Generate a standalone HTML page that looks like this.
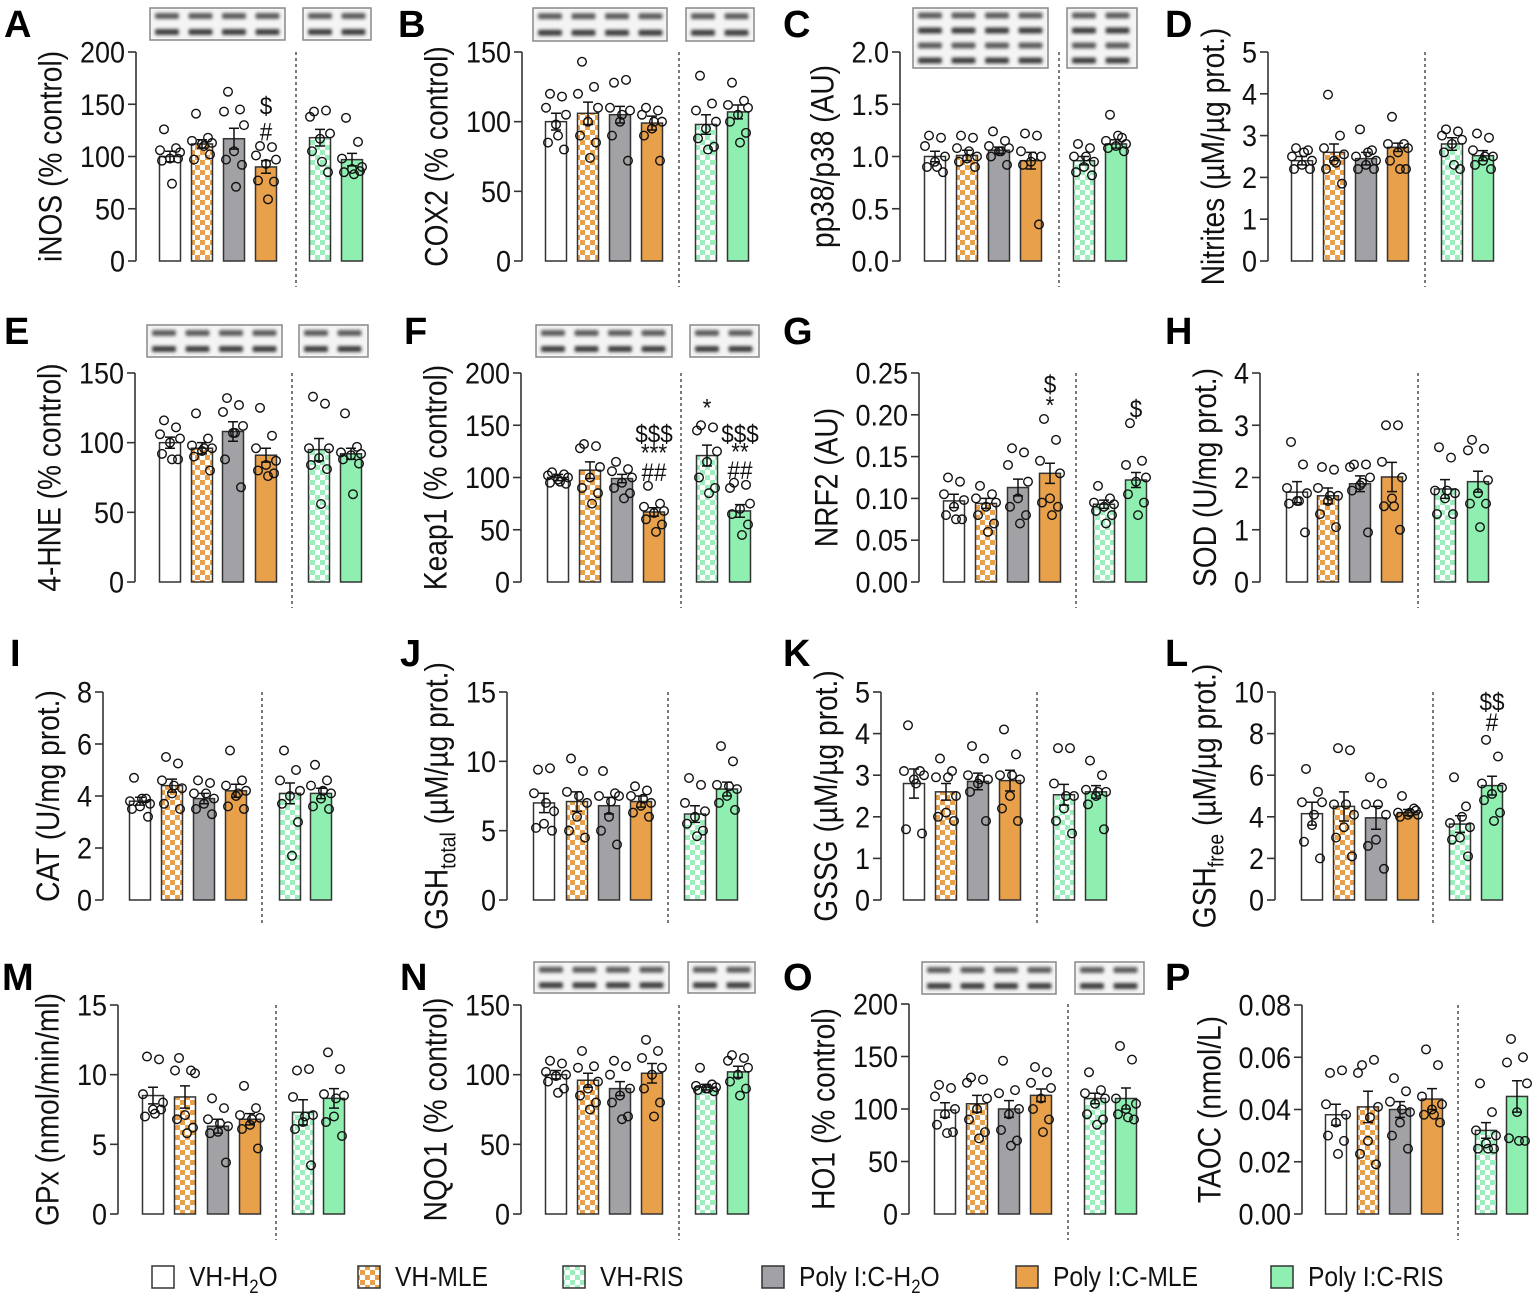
<!DOCTYPE html>
<html><head><meta charset="utf-8"><style>
html,body{margin:0;padding:0;background:#fff;}
svg{display:block;font-family:"Liberation Sans",Arial,sans-serif;}
</style></head><body>
<svg id="fig" width="1532" height="1295" viewBox="0 0 1532 1295" xmlns="http://www.w3.org/2000/svg">
<defs>
<pattern id="chkO" width="10" height="10" patternUnits="userSpaceOnUse"><rect width="10" height="10" fill="#fff"/><rect width="5" height="5" fill="#E9A04A"/><rect x="5" y="5" width="5" height="5" fill="#E9A04A"/></pattern>
<pattern id="chkG" width="10" height="10" patternUnits="userSpaceOnUse"><rect width="10" height="10" fill="#fff"/><rect width="5" height="5" fill="#9BEFBC"/><rect x="5" y="5" width="5" height="5" fill="#9BEFBC"/></pattern>
<filter id="blur" x="-20%" y="-50%" width="140%" height="200%"><feGaussianBlur stdDeviation="1.6"/></filter>
</defs>
<g id="root"></g>
</svg>
<script>
// ---- data (bar order: VH-H2O, VH-MLE, PolyI:C-H2O, PolyI:C-MLE, VH-RIS, PolyI:C-RIS)
const groups = ["VH-H2O","VH-MLE","Poly I:C-H2O","Poly I:C-MLE","VH-RIS","Poly I:C-RIS"];

const A_mean = [100,112,117,90,118,97];
const A_sem = [5,4,10,6,8,6];
const A_pts = [[126,108,106,104,98,96,98,74],[141,118,115,113,112,97,102,110],[162,145,143,130,105,97,92,71],[110,109,101,97,93,77,76,59],[143,144,138,122,117,105,85,95],[137,114,98,90,88,85,86,83]];
const A_ticks = [0,50,100,150,200];
const A_annot = [[3,"#",125],[3,"$",150]];

const B_mean = [100,106,105,99,98,107];
const B_sem = [6,8,6,5,7,5];
const B_pts = [[120,118,110,105,98,85,80,90],[143,125,120,110,100,90,85,74],[128,130,110,108,100,90,72,105],[110,108,105,100,95,90,72,100],[133,113,108,100,95,88,82,80],[128,115,112,110,105,100,92,85]];
const B_ticks = [0,50,100,150];

const C_mean = [1.0,1.01,1.06,0.96,0.96,1.12];
const C_sem = [0.05,0.05,0.03,0.08,0.04,0.04];
const C_pts = [[1.2,1.18,1.1,1.0,0.95,0.9,0.85,0.9],[1.2,1.18,1.08,1.0,0.98,0.95,0.9,1.05],[1.24,1.15,1.1,1.08,1.05,1.0,0.92,1.05],[1.22,1.2,1.05,1.0,0.95,0.92,0.35,1.0],[1.12,1.08,1.0,0.95,0.9,0.85,0.82,1.0],[1.4,1.18,1.15,1.12,1.1,1.08,1.05,1.2]];
const C_ticks = [0,0.5,1.0,1.5,2.0];

const D_mean = [2.4,2.6,2.45,2.72,2.8,2.52];
const D_sem = [0.1,0.2,0.15,0.1,0.15,0.12];
const D_pts = [[2.7,2.65,2.5,2.4,2.3,2.2,2.2,2.6],[3.98,3.0,2.7,2.55,2.4,2.2,1.85,2.35],[3.15,2.65,2.5,2.4,2.3,2.2,2.2,2.6],[3.45,2.8,2.8,2.7,2.6,2.4,2.2,2.2],[3.15,3.1,3.0,2.9,2.8,2.6,2.2,2.3],[3.05,2.95,2.65,2.5,2.4,2.3,2.2,2.5]];
const D_ticks = [0,1,2,3,4,5];

const E_mean = [100,96,108,91,95,92];
const E_sem = [4,4,7,5,8,4];
const E_pts = [[116,111,106,103,100,92,88,88],[121,103,98,96,94,90,80,96],[132,127,122,112,107,88,68,107],[125,105,96,87,84,80,78,76],[133,128,96,96,89,84,81,56],[121,97,93,92,91,88,85,63]];
const E_ticks = [0,50,100,150];

const F_mean = [100,107,99,67,121,68];
const F_sem = [3,8,4,4,10,6];
const F_pts = [[105,103,102,100,98,95,94,96],[132,130,128,110,100,90,85,75],[115,108,106,100,95,90,85,80],[92,75,72,68,66,60,55,48],[150,148,145,125,115,100,90,85],[95,93,90,75,70,65,55,45]];
const F_ticks = [0,50,100,150,200];
const F_annot = [[3,"##",106],[3,"***",125],[3,"$$$",143],[4,"*",168],[5,"##",108],[5,"**",126],[5,"$$$",143]];

const G_mean = [0.097,0.094,0.113,0.130,0.093,0.122];
const G_sem = [0.008,0.006,0.010,0.012,0.005,0.009];
const G_pts = [[0.125,0.12,0.105,0.098,0.09,0.08,0.075,0.075],[0.115,0.105,0.1,0.095,0.09,0.08,0.07,0.06],[0.16,0.155,0.14,0.12,0.1,0.09,0.08,0.07],[0.195,0.17,0.145,0.13,0.1,0.095,0.09,0.08],[0.115,0.1,0.095,0.093,0.09,0.085,0.08,0.07],[0.19,0.145,0.14,0.125,0.12,0.105,0.095,0.08]];
const G_ticks = [0,0.05,0.10,0.15,0.20,0.25];
const G_annot = [[3,"*",0.213],[3,"$",0.238],[5,"$",0.209]];

const H_mean = [1.72,1.65,1.88,2.01,1.78,1.92];
const H_sem = [0.2,0.15,0.15,0.28,0.18,0.2];
const H_pts = [[2.68,2.25,1.8,1.7,1.55,1.5,0.95,1.55],[2.2,2.15,1.8,1.65,1.55,1.3,1.05,1.65],[2.25,2.25,2.2,2.0,1.85,1.75,0.95,1.9],[3.0,3.0,2.3,2.0,1.6,1.45,1.0,1.45],[2.58,2.38,1.75,1.7,1.6,1.3,1.3,1.75],[2.72,2.55,2.52,1.95,1.7,1.5,1.5,1.05]];
const H_ticks = [0,1,2,3,4];

const I_mean = [3.8,4.4,3.9,4.2,4.1,4.1];
const I_sem = [0.15,0.25,0.2,0.25,0.4,0.2];
const I_pts = [[4.7,3.9,3.8,3.7,3.6,3.5,3.2,3.9],[5.5,5.25,4.6,4.3,4.1,3.7,3.5,4.4],[4.6,4.5,4.1,3.9,3.7,3.5,3.3,4.1],[5.75,4.6,4.4,4.2,4.0,3.6,3.5,4.1],[5.75,5.0,4.6,4.2,4.0,3.7,3.0,1.7],[5.2,4.6,4.4,4.1,3.9,3.6,3.5,4.2]];
const I_ticks = [0,2,4,6,8];

const J_mean = [7.0,7.1,6.8,7.1,6.2,8.0];
const J_sem = [0.7,0.7,0.6,0.4,0.6,0.5];
const J_pts = [[9.4,9.5,7.7,6.4,5.5,5.2,5.0,7.0],[10.2,9.3,7.8,7.0,6.0,5.0,4.5,7.5],[9.3,7.7,7.5,7.5,6.0,5.0,4.0,7.1],[8.2,7.9,7.5,7.0,6.8,6.3,6.0,7.3],[8.8,8.3,7.0,6.4,6.0,5.5,5.0,4.6],[11.1,10.0,8.3,8.0,7.5,7.0,6.5,8.2]];
const J_ticks = [0,5,10,15];

const K_mean = [2.8,2.6,2.85,2.87,2.53,2.6];
const K_sem = [0.35,0.2,0.2,0.25,0.25,0.15];
const K_pts = [[4.2,3.1,3.1,3.0,2.9,1.7,1.6,2.8],[3.4,3.1,2.95,2.5,2.1,2.0,1.9,2.95],[3.7,3.4,3.0,2.9,2.8,2.6,1.9,2.9],[4.1,3.5,3.0,2.9,2.5,2.2,1.9,3.0],[3.65,3.65,2.8,2.5,2.2,1.9,1.6,2.5],[3.35,3.0,2.65,2.6,2.5,2.3,1.7,2.6]];
const K_ticks = [0,1,2,3,4,5];

const L_mean = [4.15,4.5,3.95,4.2,3.65,5.5];
const L_sem = [0.55,0.7,0.55,0.15,0.4,0.45];
const L_pts = [[6.3,5.2,4.7,4.7,3.6,2.8,2.0,4.1],[7.3,7.2,4.6,4.1,3.5,3.0,2.1,4.6],[5.9,5.6,4.6,4.1,2.9,2.6,1.5,4.6],[5.0,4.4,4.2,4.1,4.1,4.0,4.3,4.2],[5.9,4.5,3.7,3.5,3.0,2.9,2.1,4.0],[7.7,6.9,5.6,5.4,5.1,4.8,4.2,3.8]];
const L_ticks = [0,2,4,6,8,10];
const L_annot = [[5,"#",8.6],[5,"$$",9.6]];

const M_mean = [8.5,8.4,6.3,6.8,7.3,8.3];
const M_sem = [0.6,0.8,0.5,0.4,0.9,0.7];
const M_pts = [[11.3,11.1,8.6,8.0,7.5,7.0,7.5,7.2],[11.2,10.3,10.3,10.1,7.1,6.8,6.2,5.8],[8.3,7.6,6.8,6.3,5.9,5.8,3.7,6.5],[9.2,7.6,7.1,6.9,6.4,6.1,4.7,6.8],[10.3,10.4,8.4,7.1,6.6,6.1,3.5,7.0],[11.6,10.4,8.6,8.5,7.0,6.6,5.6,8.3]];
const M_ticks = [0,5,10,15];

const N_mean = [100,96,90,101,91,102];
const N_sem = [3,5,5,7,2,4];
const N_pts = [[110,108,102,100,99,95,90,87],[117,106,105,95,90,85,80,75],[110,106,100,90,85,80,70,68],[125,117,112,105,100,90,80,70],[105,93,92,91,90,89,88,90],[114,112,110,105,100,95,90,85]];
const N_ticks = [0,50,100,150];

const O_mean = [99,105,100,113,110,110];
const O_sem = [7,8,8,6,5,10];
const O_pts = [[123,120,112,100,95,85,78,77],[130,128,125,110,100,90,78,72],[146,118,115,100,95,80,70,65],[140,135,125,120,110,100,90,78],[135,118,115,110,105,95,90,85],[160,147,110,105,100,95,90,92]];
const O_ticks = [0,50,100,150,200];

const P_mean = [0.038,0.041,0.040,0.044,0.032,0.045];
const P_sem = [0.004,0.006,0.003,0.004,0.003,0.006];
const P_pts = [[0.054,0.055,0.042,0.038,0.035,0.030,0.028,0.023],[0.057,0.059,0.054,0.041,0.028,0.023,0.019,0.037],[0.052,0.047,0.043,0.039,0.035,0.030,0.025,0.040],[0.063,0.057,0.045,0.042,0.040,0.038,0.035,0.038],[0.050,0.039,0.032,0.030,0.027,0.025,0.025,0.025],[0.067,0.060,0.058,0.050,0.039,0.029,0.028,0.028]];
const P_ticks = [0,0.02,0.04,0.06,0.08];

// ---- layout
const NS = "http://www.w3.org/2000/svg";
const root = document.getElementById("root");
function mk(tag, attrs, parent){ const e=document.createElementNS(NS,tag); for(const k in attrs) e.setAttribute(k,attrs[k]); (parent||root).appendChild(e); return e; }

const fills = ["#ffffff","url(#chkO)","#A2A2A6","#E9A04A","url(#chkG)","#8FEFB1"];
const barNames = ["bar-vh-h2o","bar-vh-mle","bar-polyic-h2o","bar-polyic-mle","bar-vh-ris","bar-polyic-ris"];
const jit = [-6,6,-10,10,0,-8,8,2];

const panels = [
 {L:"A",lx:4,ly:37,ax:136,yt:52,yb:261,bx:[170,202,234,266,320,352],dash:296,title:"iNOS (% control)",mean:A_mean,sem:A_sem,pts:A_pts,ticks:A_ticks,dec:0,annot:A_annot,blots:[[150,8,285,40,2],[303,8,371,40,2]]},
 {L:"B",lx:398,ly:37,ax:522,yt:52,yb:261,bx:[556,588,620,652,706,738],dash:679,title:"COX2 (% control)",mean:B_mean,sem:B_sem,pts:B_pts,ticks:B_ticks,dec:0,blots:[[533,8,667,41,2],[686,8,754,41,2]]},
 {L:"C",lx:783,ly:37,ax:900,yt:52,yb:261,bx:[935,967,999,1031,1084,1116],dash:1059,title:"pp38/p38 (AU)",mean:C_mean,sem:C_sem,pts:C_pts,ticks:C_ticks,dec:1,blots:[[913,8,1048,68,4],[1067,8,1137,68,4]]},
 {L:"D",lx:1165,ly:37,ax:1268,yt:52,yb:261,bx:[1302,1334,1366,1398,1452,1483],dash:1425,title:"Nitrites (µM/µg prot.)",mean:D_mean,sem:D_sem,pts:D_pts,ticks:D_ticks,dec:0},
 {L:"E",lx:4,ly:344,ax:135,yt:373,yb:582,bx:[170,202,233,266,319,351],dash:292,title:"4-HNE (% control)",mean:E_mean,sem:E_sem,pts:E_pts,ticks:E_ticks,dec:0,blots:[[147,325,282,357,2],[299,325,368,357,2]]},
 {L:"F",lx:404,ly:344,ax:521,yt:373,yb:582,bx:[558,590,622,654,707,740],dash:681,title:"Keap1 (% control)",mean:F_mean,sem:F_sem,pts:F_pts,ticks:F_ticks,dec:0,annot:F_annot,blots:[[536,325,672,357,2],[690,325,759,357,2]]},
 {L:"G",lx:783,ly:344,ax:919,yt:373,yb:582,bx:[954,986,1018,1050,1104,1136],dash:1076,title:"NRF2 (AU)",mean:G_mean,sem:G_sem,pts:G_pts,ticks:G_ticks,dec:2,annot:G_annot},
 {L:"H",lx:1165,ly:344,ax:1260,yt:373,yb:582,bx:[1297,1328,1360,1392,1445,1478],dash:1418,title:"SOD (U/mg prot.)",mean:H_mean,sem:H_sem,pts:H_pts,ticks:H_ticks,dec:0},
 {L:"I",lx:10,ly:666,ax:103,yt:692,yb:900,bx:[140,172,204,236,290,321],dash:262,title:"CAT (U/mg prot.)",mean:I_mean,sem:I_sem,pts:I_pts,ticks:I_ticks,dec:0},
 {L:"J",lx:400,ly:666,ax:507,yt:692,yb:900,bx:[544,577,609,641,695,727],dash:668,title:"GSH|total| (µM/µg prot.)",mean:J_mean,sem:J_sem,pts:J_pts,ticks:J_ticks,dec:0},
 {L:"K",lx:783,ly:666,ax:881,yt:692,yb:900,bx:[914,946,978,1010,1064,1096],dash:1037,title:"GSSG (µM/µg prot.)",mean:K_mean,sem:K_sem,pts:K_pts,ticks:K_ticks,dec:0},
 {L:"L",lx:1165,ly:666,ax:1275,yt:692,yb:900,bx:[1312,1344,1376,1408,1460,1492],dash:1433,title:"GSH|free| (µM/µg prot.)",mean:L_mean,sem:L_sem,pts:L_pts,ticks:L_ticks,dec:0,annot:L_annot},
 {L:"M",lx:2,ly:990,ax:118,yt:1005,yb:1214,bx:[153,185,218,250,303,334],dash:276,title:"GPx (nmol/min/ml)",mean:M_mean,sem:M_sem,pts:M_pts,ticks:M_ticks,dec:0},
 {L:"N",lx:400,ly:990,ax:521,yt:1005,yb:1214,bx:[556,588,620,652,706,738],dash:679,title:"NQO1 (% control)",mean:N_mean,sem:N_sem,pts:N_pts,ticks:N_ticks,dec:0,blots:[[534,962,669,993,2],[688,962,755,993,2]]},
 {L:"O",lx:783,ly:990,ax:909,yt:1004,yb:1214,bx:[945,977,1009,1041,1095,1126],dash:1068,title:"HO1 (% control)",mean:O_mean,sem:O_sem,pts:O_pts,ticks:O_ticks,dec:0,blots:[[922,962,1056,994,2],[1075,962,1144,994,2]]},
 {L:"P",lx:1165,ly:990,ax:1302,yt:1005,yb:1214,bx:[1336,1368,1400,1432,1486,1517],dash:1458,title:"TAOC (nmol/L)",mean:P_mean,sem:P_sem,pts:P_pts,ticks:P_ticks,dec:2}
];

panels.forEach(p=>{
  const g = mk("g",{});
  
  
  const max = p.ticks[p.ticks.length-1];
  const y = v => p.yb - (v/max)*(p.yb-p.yt);
  const lt = mk("text",{x:p.lx,y:p.ly,"font-size":38,"font-weight":"bold",fill:"#000"},g);
  lt.textContent = p.L;
  
  
  (p.blots||[]).forEach((b,bi)=>{
    const bg = mk("g",{},g);
    
    
    mk("rect",{x:b[0],y:b[1],width:b[2]-b[0],height:b[3]-b[1],fill:"#f4f4f4",stroke:"#888","stroke-width":1.5},bg);
    const n = bi===0?4:2, rows=b[4];
    const rh = (b[3]-b[1])/rows;
    for(let i=0;i<n;i++){
      const cx = b[0]+17+33.5*i;
      for(let r=0;r<rows;r++){
        const cy = b[1]+rh*(r+0.5);
        mk("rect",{x:cx-12,y:cy-3,width:24,height:6,rx:2,fill:r%2?"#222":"#444",opacity:0.85,filter:"url(#blur)"},bg);
      }
    }
  });
  const ax = mk("line",{x1:p.ax,y1:p.yt,x2:p.ax,y2:p.yb,stroke:"#333","stroke-width":1.6},g);
  
  
  let maxW = 0;
  p.ticks.forEach(t=>{
    mk("line",{x1:p.ax-8,y1:y(t),x2:p.ax,y2:y(t),stroke:"#333","stroke-width":1.6},g);
    const s = t.toFixed(p.dec);
    maxW = Math.max(maxW, s.replace('.','').length*15.2 + (s.includes('.')?7:0));
    const tx = mk("text",{x:0,y:0,"font-size":30,"text-anchor":"end",fill:"#111",transform:`translate(${p.ax-11},${y(t)+10.5}) scale(0.9,1)`},g);
    tx.textContent = s;
    
    
  });
  const tcx = p.ax-11-maxW-18, tcy=(p.yt+p.yb)/2;
  const tt = mk("text",{x:0,y:0,"font-size":32,"text-anchor":"middle",fill:"#111",transform:`translate(${tcx},${tcy}) rotate(-90) scale(0.88,1)`},g);
  
  
  const parts = p.title.split("|");
  if(parts.length===3){
    const a=mk("tspan",{},tt); a.textContent=parts[0];
    const b=mk("tspan",{"font-size":22,dy:8},tt); b.textContent=parts[1];
    const c=mk("tspan",{dy:-8},tt); c.textContent=parts[2];
  } else tt.textContent = p.title;
  const dl = mk("line",{x1:p.dash,y1:p.yt,x2:p.dash,y2:p.yb+26,stroke:"#333","stroke-width":1.3,"stroke-dasharray":"3,3"},g);
  
  
  p.mean.forEach((m,i)=>{
    const cx=p.bx[i];
    const r = mk("rect",{x:cx-10.5,y:y(m),width:21,height:p.yb-y(m),fill:fills[i],stroke:"#333","stroke-width":1.5},g);
    
    
  });
  p.pts.forEach((arr,i)=>{
    arr.forEach((v,j)=>{
      const c = mk("circle",{cx:p.bx[i]+jit[j],cy:y(v),r:4.3,fill:"none",stroke:"#111","stroke-width":1.4},g);
      
      
    });
  });
  p.mean.forEach((m,i)=>{
    const cx=p.bx[i], s=p.sem[i];
    const eb = mk("path",{d:`M${cx},${y(m-s)}V${y(m+s)}M${cx-5},${y(m+s)}H${cx+5}M${cx-5},${y(m-s)}H${cx+5}`,stroke:"#111","stroke-width":1.5,fill:"none"},g);
    
    
  });
  (p.annot||[]).forEach(a=>{
    const t = mk("text",{x:0,y:0,"font-size":25,"text-anchor":"middle",fill:"#111",transform:`translate(${p.bx[a[0]]},${y(a[2])+10}) scale(0.9,1)`},g);
    t.textContent = a[1];
    
    
  });
});

// legend
const legX = [152,358,563,762,1016,1271];
const legFill = ["#ffffff","url(#chkO)","url(#chkG)","#A2A2A6","#E9A04A","#8FEFB1"];
const legText = [["VH-H","2","O"],["VH-MLE"],["VH-RIS"],["Poly I:C-H","2","O"],["Poly I:C-MLE"],["Poly I:C-RIS"]];
legX.forEach((x,i)=>{
  const g = mk("g",{});
  
  
  mk("rect",{x:x,y:1266,width:22,height:22,fill:legFill[i],stroke:"#333","stroke-width":1.5},g);
  const t = mk("text",{x:0,y:0,"font-size":28,fill:"#111",transform:`translate(${x+37},${1286}) scale(0.88,1)`},g);
  const lt = legText[i];
  const a = mk("tspan",{},t); a.textContent = lt[0];
  if(lt.length===3){
    const b = mk("tspan",{"font-size":19,dy:7},t); b.textContent = lt[1];
    const c = mk("tspan",{dy:-7},t); c.textContent = lt[2];
  }
});
</script>
</body></html>
